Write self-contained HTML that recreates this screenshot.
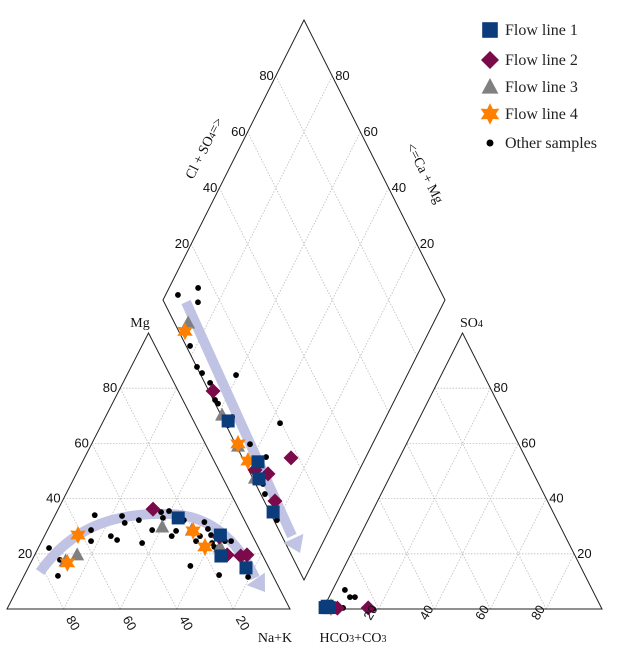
<!DOCTYPE html>
<html><head><meta charset="utf-8">
<style>
html,body{margin:0;padding:0;background:#fff;}
svg{display:block;}
.tk{font-family:"Liberation Sans",sans-serif;font-size:13px;fill:#111;}
.ax{font-family:"Liberation Serif",serif;font-size:14px;fill:#111;}
.lg{font-family:"Liberation Serif",serif;font-size:16px;fill:#222;}
</style></head>
<body>
<svg id="chart" width="627" height="650" viewBox="0 0 627 650" xmlns="http://www.w3.org/2000/svg">
<g id="grid"></g>
<g id="frames"></g>
<g id="arrows"></g>
<g id="marks"></g>
<g id="labels"></g>
<g id="legend"></g>
</svg>
<script>
// ---- Cation triangle data (Na+K %, Mg %) ----
const catF1Na=[44,62,66,77];
const catF1Mg=[33,26.8,19.2,14.9];
const catF2Na=[33.5,62,73,75,68];
const catF2Mg=[36.2,26.1,19.2,19.6,19.6];
const catF3Na=[15,12,40,51,64];
const catF3Mg=[19.6,17.4,29.7,28.6,22.5];
const catF4Na=[11.7,13,51.6,58.7];
const catF4Mg=[26.8,16.7,28.3,22.5];
const catOtNa=[3.8,9.8,12,14,15.4,17.4,23.5,26.4,23.8,26,30.5,35.8,37,36.9,38.6,39.5,45,45.6,46.4,57,54,56.5,58.7,60.5,64.7,66.9,68.8,79.4,62,54.5,55];
const catOtMg=[22.1,17.8,12,34,28.6,24.6,26.4,25,33.7,31.2,32.2,23.9,28.6,35.1,33,35.5,26.4,28.3,32.2,15.6,31.5,29,26.8,23.9,24.6,24.6,12.3,11.6,22.5,24.6,26.4];
// ---- Anion triangle data (Cl %, SO4 %) ----
const anF1Cl=[0.5,2,1];
const anF1So=[0.5,0.5,1];
const anF2Cl=[16,5];
const anF2So=[0.4,0.3];
const anF3Cl=[0.7];
const anF3So=[0.9];
const anF4Cl=[2.5];
const anF4So=[0.7];
const anOtCl=[4.4,7.5,9.3,1.4,4.3,7,18,4.3];
const anOtSo=[6.9,4.3,4.3,2.2,1.4,0.4,0,0];
// ---- Diamond data (Na+K %, Cl+SO4 %) ----
const diF1Na=[44.7,62.6,66,76.9];
const diF1An=[1.5,4.8,2.1,1.2];
const diF2Na=[34,63,68.3,75.6,73.6];
const diF2An=[1.5,2.3,6.2,3.8,17.2];
const diF3Na=[13,41.5,52.7,64.4];
const diF3An=[4.8,0.4,0.5,0.8];
const diF4Na=[13.4,52.3,58.9];
const diF4An=[2.2,0.9,1.4];
const diOtNa=[4.4,10.3,12.8,17.8,24,26.9,31.5,39.3,36.3,38,45.4,45.4,56.6,64.6,63.5,68.3,70.8,79.7];
const diOtAn=[6.2,14.6,12,1.4,0.1,0.8,1.9,12.5,0.6,1,3.6,0.7,5.1,8.5,19.5,2.6,1.5,1.1];
const ticks=[20,40,60,80];
const tickLabels=["20","40","60","80"];

const NS="http://www.w3.org/2000/svg";
function cat(na,mg){return [7+na*2.83+mg*1.415, 609-mg*2.76];}
function an(cl,so){return [323+cl*2.79+so*1.395, 609-so*2.76];}
function dia(n,a){return [163+1.41*(n+a), 300+2.8*(n-a)];}
function mk(tag,attrs,parent){const e=document.createElementNS(NS,tag);for(const k in attrs)e.setAttribute(k,attrs[k]);parent.appendChild(e);return e;}
const G=document.getElementById('grid'),F=document.getElementById('frames'),A=document.getElementById('arrows'),M=document.getElementById('marks'),L=document.getElementById('labels'),LG=document.getElementById('legend');

function gl(p,q){const l=mk('line',{x1:p[0],y1:p[1],x2:q[0],y2:q[1],stroke:'#bdbdbd','stroke-width':0.8,'stroke-dasharray':'1.5,1.5'},G);

}
ticks.forEach(v=>{
  gl(cat(0,v),cat(100-v,v));gl(cat(v,0),cat(v,100-v));gl(cat(100-v,0),cat(0,100-v));
  gl(an(0,v),an(100-v,v));gl(an(v,0),an(v,100-v));gl(an(100-v,0),an(0,100-v));
  gl(dia(v,0),dia(v,100));gl(dia(0,v),dia(100,v));
});
function poly(pts,name){const p=mk('polygon',{points:pts.map(q=>q.join(',')).join(' '),fill:'none',stroke:'#222','stroke-width':1},F);

}
poly([cat(0,0),cat(100,0),cat(0,100)],'cation-triangle');
poly([an(0,0),an(100,0),an(0,100)],'anion-triangle');
poly([dia(0,0),dia(100,0),dia(100,100),dia(0,100)],'diamond-field');

function arrow(d,tip,ang,name){
  const g=mk('g',{},A);
  
  
  mk('path',{d:d,fill:'none',stroke:'#b9bde0','stroke-width':10,'stroke-linecap':'butt',opacity:0.9},g);
  const a=ang*Math.PI/180,L2=16,W=11;
  const bx=tip[0]-L2*Math.cos(a),by=tip[1]-L2*Math.sin(a);
  const px=-Math.sin(a)*W,py=Math.cos(a)*W;
  mk('polygon',{points:`${tip[0]},${tip[1]} ${bx+px},${by+py} ${bx-px},${by-py}`,fill:'#b9bde0',opacity:0.9},g);
}
arrow('M40,572 C70,530 110,512 170,514 C215,516 240,545 255,578',[265,592],55,'cation-flow-arrow');
arrow('M186,302 L292,536',[300,553],65.6,'diamond-flow-arrow');

function dot(p){const c=mk('circle',{cx:p[0],cy:p[1],r:2.9,fill:'#000'},M);

}
function sq(p){const e=mk('rect',{x:p[0]-6.5,y:p[1]-6.5,width:13,height:13,fill:'#0b3c7c'},M);

}
function dm(p){const e=mk('polygon',{points:`${p[0]},${p[1]-7.5} ${p[0]+7.5},${p[1]} ${p[0]},${p[1]+7.5} ${p[0]-7.5},${p[1]}`,fill:'#7a0a4a'},M);

}
function tri(p){const e=mk('polygon',{points:`${p[0]},${p[1]-7.5} ${p[0]+7},${p[1]+5.5} ${p[0]-7},${p[1]+5.5}`,fill:'#808080'},M);

}
function star(p){let s=[];for(let i=0;i<12;i++){const r=i%2?4.8:9,a=(i*30-90)*Math.PI/180;s.push((p[0]+r*Math.cos(a)).toFixed(1)+','+(p[1]+r*Math.sin(a)).toFixed(1));}
const e=mk('polygon',{points:s.join(' '),fill:'#ff8000'},M);

}
function plot(fn,xs,ys,f){xs.forEach((v,i)=>f(fn(v,ys[i])));}
plot(cat,catOtNa,catOtMg,dot);plot(an,anOtCl,anOtSo,dot);plot(dia,diOtNa,diOtAn,dot);
plot(cat,catF3Na,catF3Mg,tri);plot(an,anF3Cl,anF3So,tri);plot(dia,diF3Na,diF3An,tri);
plot(cat,catF4Na,catF4Mg,star);plot(an,anF4Cl,anF4So,star);plot(dia,diF4Na,diF4An,star);
plot(cat,catF2Na,catF2Mg,dm);plot(an,anF2Cl,anF2So,dm);plot(dia,diF2Na,diF2An,dm);
plot(cat,catF1Na,catF1Mg,sq);plot(an,anF1Cl,anF1So,sq);plot(dia,diF1Na,diF1An,sq);

function txt(x,y,s,cls,anchor,rot,name){const t=mk('text',{x:x,y:y,class:cls,'text-anchor':anchor||'start'},L);
if(rot)t.setAttribute('transform',`rotate(${rot} ${x} ${y})`);t.textContent=s;

return t;}
ticks.forEach((v,i)=>{
  let p=cat(0,v);txt(p[0]-3,p[1]+4,tickLabels[i],'tk','end',0,'mg-tick-label');
  p=cat(100-v,0);txt(p[0]+2,p[1]+10,tickLabels[i],'tk','start',60,'ca-tick-label');
  p=an(100-v,v);txt(p[0]+3,p[1]+4,tickLabels[i],'tk','start',0,'so4-tick-label');
  p=an(v,0);txt(p[0]-8,p[1]+12,tickLabels[i],'tk','start',-60,'cl-tick-label');
  p=dia(0,v);txt(p[0]-2,p[1]+4,tickLabels[i],'tk','end',0,'cl-so4-tick-label');
  p=dia(100-v,100);txt(p[0]+3,p[1]+4,tickLabels[i],'tk','start',0,'ca-mg-tick-label');
});
let t=txt(140,327,'Mg','ax','middle',0,'mg-axis-title');
t=txt(275,642,'Na+K','ax','middle',0,'na-k-axis-title');
t=txt(460,327,'','ax','start',0,'so4-axis-title');t.innerHTML='SO<tspan font-size="10">4</tspan>';
t=txt(353,642,'','ax','middle',0,'hco3-co3-axis-title');t.innerHTML='HCO<tspan font-size="10">3</tspan>+CO<tspan font-size="10">3</tspan>';
t=txt(193,180,'','ax','start',-63,'cl-so4-axis-title');t.innerHTML='Cl + SO<tspan font-size="10">4</tspan>=&gt;';
t=txt(406,146,'','ax','start',63,'ca-mg-axis-title');t.innerHTML='&lt;=Ca + Mg';

const lgY=[30,60,87,114,143];
const lgText=['Flow line 1','Flow line 2','Flow line 3','Flow line 4','Other samples'];
const lgFn=[sq,dm,tri,star,dot];
lgText.forEach((s,i)=>{
  lgFn[i]([490,lgY[i]]);
  const m=M.lastChild;
  const g=mk('g',{transform:`translate(490 ${lgY[i]}) scale(1.2) translate(-490 ${-lgY[i]})`},LG);
  g.appendChild(m);
  
  const tt=mk('text',{x:505,y:lgY[i]+5,class:'lg'},LG);tt.textContent=s;
  
  
});
</script>
</body></html>
